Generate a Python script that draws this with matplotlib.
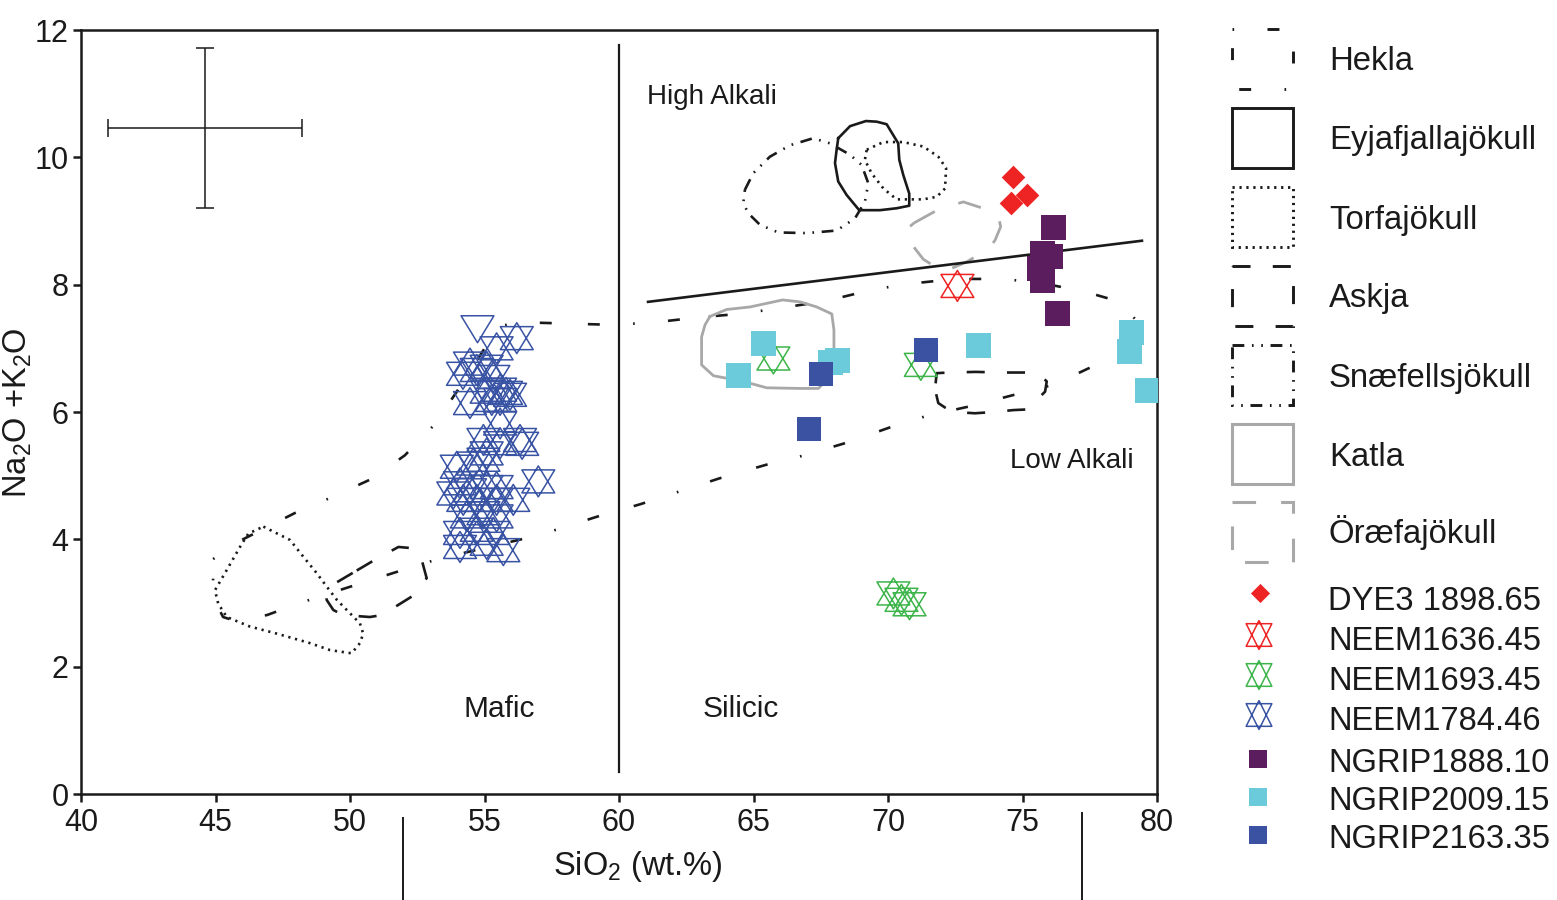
import numpy as np
import matplotlib
matplotlib.use("Agg")
import matplotlib.pyplot as plt
from matplotlib.path import Path
from matplotlib.patches import Rectangle

plt.rcParams['font.family'] = ['Liberation Sans', 'DejaVu Sans']
plt.rcParams['mathtext.default'] = 'regular'
plt.rcParams['lines.scale_dashes'] = False

# ---------------- data ----------------
# volcanic fields (outlines, SiO2 vs total alkali)
hekla_x = [44.91, 46.02, 48.03, 49.26, 50.86, 52.04, 53.16, 54.16, 55.20, 55.58,
           56.32, 59.67, 61.15, 62.83, 64.68, 67.66, 69.41, 70.71, 72.49, 74.24,
           75.65, 77.32, 78.55, 78.92, 79.35, 79.28, 78.33, 76.17, 74.87, 73.16,
           71.45, 70.15, 68.48, 66.80, 65.46, 63.75, 60.78, 59.29, 57.06, 53.27,
           51.60, 49.89, 48.14, 46.91, 45.65, 45.28, 45.02, 44.91]
hekla_y = [3.69, 4.00, 4.43, 4.65, 4.96, 5.32, 5.81, 6.44, 7.13, 7.35,
           7.41, 7.37, 7.40, 7.48, 7.55, 7.74, 7.92, 8.01, 8.09, 8.09,
           8.03, 7.89, 7.74, 7.60, 7.37, 7.05, 6.86, 6.43, 6.29, 6.10,
           5.94, 5.77, 5.52, 5.31, 5.17, 4.96, 4.55, 4.37, 4.07, 3.69,
           3.47, 3.24, 3.00, 2.81, 2.73, 2.78, 3.00, 3.16]
eyja_x = [68.15, 68.59, 69.18, 69.58, 69.95, 70.38, 70.42, 70.57, 70.79, 70.79,
          70.32, 69.70, 68.93, 68.46, 68.15, 68.03, 68.09]
eyja_y = [10.30, 10.49, 10.57, 10.56, 10.52, 10.22, 9.96, 9.72, 9.43, 9.24,
          9.20, 9.17, 9.17, 9.41, 9.62, 9.91, 10.12]
torf_sil_x = [69.21, 69.83, 70.57, 71.31, 71.87, 72.16, 72.12, 71.81, 71.31, 70.32,
              69.83, 69.39, 69.14]
torf_sil_y = [10.12, 10.24, 10.24, 10.17, 10.01, 9.83, 9.51, 9.38, 9.34, 9.34,
              9.51, 9.75, 9.96]
torf_maf_x = [46.78, 47.77, 48.26, 48.76, 49.13, 49.51, 49.88, 50.37, 50.49, 50.37,
              50.06, 49.26, 48.51, 47.27, 46.28, 45.42, 45.10, 44.98, 45.42, 45.91, 46.22]
torf_maf_y = [4.20, 3.99, 3.73, 3.47, 3.26, 3.05, 2.89, 2.68, 2.52, 2.37,
              2.21, 2.26, 2.37, 2.52, 2.63, 2.78, 2.99, 3.20, 3.52, 3.88, 4.09]
askja_sil_x = [71.77, 71.81, 72.24, 73.27, 74.16, 75.22, 75.59, 75.90, 75.84, 75.53,
               75.28, 75.16, 74.66, 73.92, 73.23, 72.49, 72.12, 71.87, 71.78]
askja_sil_y = [6.45, 6.61, 6.62, 6.63, 6.62, 6.62, 6.61, 6.48, 6.32, 6.19,
               6.09, 6.04, 6.03, 6.00, 5.98, 6.00, 6.07, 6.14, 6.30]
askja_maf_x = [50.25, 50.93, 51.80, 52.35, 52.60, 52.85, 52.29, 51.49, 51.18, 50.74,
               49.75, 49.38, 49.13, 49.13]
askja_maf_y = [3.51, 3.68, 3.88, 3.86, 3.78, 3.39, 3.10, 2.89, 2.81, 2.78,
               2.81, 2.89, 3.05, 3.23]
snae_x = [64.68, 64.99, 65.61, 66.36, 67.22, 67.84, 68.59, 69.02, 69.27, 69.14,
          68.77, 68.09, 66.98, 65.92, 65.24, 64.81, 64.62]
snae_y = [9.49, 9.75, 10.01, 10.19, 10.30, 10.22, 10.04, 9.88, 9.59, 9.30,
          9.04, 8.85, 8.81, 8.82, 8.94, 9.12, 9.28]
katla_x = [63.38, 64.00, 64.87, 66.08, 66.73, 67.35, 67.91, 67.99, 67.99, 67.84,
           67.60, 67.41, 66.73, 65.49, 64.62, 63.51, 63.07, 63.07, 63.20]
katla_y = [7.50, 7.61, 7.65, 7.76, 7.73, 7.65, 7.54, 7.29, 6.97, 6.66,
           6.45, 6.37, 6.37, 6.38, 6.48, 6.57, 6.74, 7.18, 7.37]
oraefa_x = [70.97, 71.87, 72.80, 73.75, 74.10, 74.19, 73.98, 73.75, 72.93, 72.06,
            71.31, 70.76, 70.67]
oraefa_y = [8.97, 9.18, 9.30, 9.17, 9.08, 8.91, 8.70, 8.56, 8.36, 8.20,
            8.40, 8.70, 8.86]

# classification lines
alkali_line_x = [61.08, 79.44]
alkali_line_y = [7.73, 8.69]
mafic_silicic_x = [60.0, 60.0]
mafic_silicic_y = [0.35, 11.76]

# analytical uncertainty cross
err_x, err_y = 44.61, 10.46
err_dx, err_dy = 3.6, 1.26

# tephra samples
dye3_x = [74.64, 75.17, 74.58]
dye3_y = [9.69, 9.41, 9.29]
neem1636_x = [72.58]
neem1636_y = [7.98]
neem1693_x = [65.74, 71.22, 70.20, 70.50, 70.80]
neem1693_y = [6.84, 6.74, 3.15, 3.05, 2.98]
neem1784_x = [56.20, 55.45, 54.46, 55.08, 54.71, 55.33, 55.58, 55.08, 55.95, 54.46,
              55.27, 55.58, 55.58, 54.96, 56.32, 55.58, 55.08, 54.96, 53.97, 54.58,
              57.00, 54.09, 53.84, 54.46, 55.08, 55.45, 56.07, 54.71, 54.21, 55.45,
              54.34, 54.96, 55.45, 54.09, 54.71, 55.33, 54.09, 55.08, 55.70, 54.20,
              56.40, 55.80]
neem1784_y = [7.16, 7.00, 6.76, 6.71, 6.66, 6.55, 6.35, 6.32, 6.27, 6.14,
              6.19, 6.19, 5.82, 5.56, 5.56, 5.51, 5.35, 5.25, 5.14, 5.19,
              4.91, 4.88, 4.72, 4.77, 4.82, 4.82, 4.62, 4.62, 4.62, 4.62,
              4.36, 4.41, 4.36, 4.10, 4.15, 4.10, 3.88, 3.93, 3.83, 6.60,
              5.50, 6.30]
neem1784_tri_x = [54.74]
neem1784_tri_y = [7.30]
ngrip1888_x = [76.15, 75.71, 76.02, 75.63, 75.74, 76.29]
ngrip1888_y = [8.91, 8.49, 8.45, 8.26, 8.07, 7.56]
ngrip2009_x = [65.36, 64.44, 68.09, 67.84, 73.36, 79.05, 78.97, 79.64]
ngrip2009_y = [7.09, 6.58, 6.81, 6.78, 7.05, 7.26, 6.96, 6.35]
ngrip2163_x = [71.41, 67.51, 67.06]
ngrip2163_y = [6.97, 6.59, 5.73]

x_ticks = [40, 45, 50, 55, 60, 65, 70, 75, 80]
y_ticks = [0, 2, 4, 6, 8, 10, 12]

field_names = ['Hekla', 'Eyjafjallajökull', 'Torfajökull', 'Askja',
               'Snæfellsjökull', 'Katla', 'Öræfajökull']
sample_names = ['DYE3 1898.65', 'NEEM1636.45', 'NEEM1693.45', 'NEEM1784.46',
                'NGRIP1888.10', 'NGRIP2009.15', 'NGRIP2163.35']

# ---------------- styles ----------------
BLACK = '#1a1a1a'
GREY = '#a8a8a8'
RED = '#ee2424'
GREEN = '#3db54a'
BLUE = '#3953a4'
PURPLE = '#5c1d5e'
CYAN = '#6ccbdb'
DBLUE = '#3a52a1'

field_style = {
    'Hekla': dict(color=BLACK, lw=1.9, ls=(0, (1.2, 24, 8.6, 26, 8.6, 24))),
    'Eyjafjallajökull': dict(color=BLACK, lw=1.9, ls='-'),
    'Torfajökull': dict(color=BLACK, lw=1.9, ls=(0, (1.6, 3.4))),
    'Askja': dict(color=BLACK, lw=1.9, ls=(0, (13, 16))),
    'Snæfellsjökull': dict(color=BLACK, lw=1.9, ls=(0, (8.5, 5.5, 1.2, 5.5, 1.2, 5.5))),
    'Katla': dict(color=GREY, lw=2.0, ls='-'),
    'Öræfajökull': dict(color=GREY, lw=2.0, ls=(0, (17, 18))),
}


def star_path(h=0.82, d=0.06):
    verts = [(0, h / 2 + d), (-0.5, -h / 2 + d), (0.5, -h / 2 + d), (0, h / 2 + d),
             (0, -h / 2 - d), (-0.5, h / 2 - d), (0.5, h / 2 - d), (0, -h / 2 - d)]
    codes = [Path.MOVETO, Path.LINETO, Path.LINETO, Path.CLOSEPOLY] * 2
    return Path(verts, codes)


def down_tri_path(h=0.82):
    verts = [(-0.5, h / 2), (0.5, h / 2), (0, -h / 2), (-0.5, h / 2)]
    codes = [Path.MOVETO, Path.LINETO, Path.LINETO, Path.CLOSEPOLY]
    return Path(verts, codes)


STAR = star_path()
STAR_LEG = star_path(h=1.0, d=0.06)
DTRI = down_tri_path()

# ---------------- figure ----------------
W, H = 1557, 900
fig = plt.figure(figsize=(W / 100, H / 100), dpi=100)
ax = fig.add_axes([81 / W, 106 / H, 1076 / W, 764 / H])
ax.set_xlim(40, 80)
ax.set_ylim(0, 12)
ax.set_xticks(x_ticks)
ax.set_yticks(y_ticks)
ax.tick_params(direction='out', length=6, width=1.8, labelsize=22, pad=3, colors=BLACK)
ax.tick_params(axis='x', pad=4)
for s in ax.spines.values():
    s.set_linewidth(1.8)
    s.set_color(BLACK)


def closed(a):
    return list(a) + [a[0]]


fields = [
    ('Hekla', hekla_x, hekla_y),
    ('Eyjafjallajökull', eyja_x, eyja_y),
    ('Torfajökull', torf_sil_x, torf_sil_y),
    ('Torfajökull', torf_maf_x, torf_maf_y),
    ('Askja', askja_sil_x, askja_sil_y),
    ('Askja', askja_maf_x, askja_maf_y),
    ('Snæfellsjökull', snae_x, snae_y),
    ('Katla', katla_x, katla_y),
    ('Öræfajökull', oraefa_x, oraefa_y),
]
for name, fx, fy in fields:
    st = field_style[name]
    ax.plot(closed(fx), closed(fy), color=st['color'], lw=st['lw'], ls=st['ls'],
            zorder=2, solid_joinstyle='round')

ax.plot(alkali_line_x, alkali_line_y, color=BLACK, lw=1.9, zorder=2)
ax.plot(mafic_silicic_x, mafic_silicic_y, color=BLACK, lw=1.6, zorder=2)

ax.errorbar([err_x], [err_y], xerr=[err_dx], yerr=[err_dy], fmt='none',
            ecolor=BLACK, elinewidth=1.1, capsize=6.5, capthick=1.1, zorder=2)

ax.text(61.04, 10.95, 'High Alkali', ha='left', va='center', fontsize=20, color=BLACK)
ax.text(74.54, 5.23, 'Low Alkali', ha='left', va='center', fontsize=20, color=BLACK)
ax.text(55.54, 1.34, 'Mafic', ha='center', va='center', fontsize=21.5, color=BLACK)
ax.text(64.54, 1.34, 'Silicic', ha='center', va='center', fontsize=21.5, color=BLACK)

# samples
ax.scatter(neem1784_x, neem1784_y, marker=STAR, s=560, facecolors='none',
           edgecolors=BLUE, linewidths=1.1, zorder=3)
ax.scatter(neem1784_tri_x, neem1784_tri_y, marker=DTRI, s=560, facecolors='none',
           edgecolors=BLUE, linewidths=1.1, zorder=3)
ax.scatter(neem1693_x, neem1693_y, marker=STAR, s=560, facecolors='none',
           edgecolors=GREEN, linewidths=1.1, zorder=3)
ax.scatter(neem1636_x, neem1636_y, marker=STAR, s=560, facecolors='none',
           edgecolors=RED, linewidths=1.1, zorder=3)
ax.scatter(dye3_x, dye3_y, marker='D', s=145, color=RED, linewidths=0, zorder=4)
ax.scatter(ngrip1888_x, ngrip1888_y, marker='s', s=324, color=PURPLE, linewidths=0, zorder=4)
ax.scatter(ngrip2009_x, ngrip2009_y, marker='s', s=324, color=CYAN, linewidths=0, zorder=4)
ax.scatter(ngrip2163_x, ngrip2163_y, marker='s', s=300, color=DBLUE, linewidths=0, zorder=4)

# axis labels
fig.text(638 / W, 1 - 866 / H, 'SiO$_2$ (wt.%)', ha='center', va='center',
         fontsize=23.5, color=BLACK)
fig.text(18 / W, 1 - 413 / H, 'Na$_2$O +K$_2$O', ha='center', va='center',
         rotation=90, fontsize=23.5, color=BLACK)

# ---------------- legend (pixel-space overlay) ----------------
lg = fig.add_axes([0, 0, 1, 1], zorder=5)
lg.set_xlim(0, W)
lg.set_ylim(H, 0)
lg.axis('off')

box_tops = [29, 108, 187, 266, 345, 424, 502]
for name, top in zip(field_names, box_tops):
    st = field_style[name]
    lg.add_patch(Rectangle((1232, top), 61, 60, fill=False, edgecolor=st['color'],
                           lw=st['lw'] + 0.2, ls=st['ls']))
    lg.text(1329, top + 30 + 11.5, name, ha='left', va='baseline',
            fontsize=23.7, color=BLACK)

leg_y = [593, 635, 675, 715, 759, 797, 835]
text_y = [599, 638, 678, 718, 760, 798, 837]
lg.scatter([1260.5], [leg_y[0]], marker='D', s=95, color=RED, linewidths=0)
lg.scatter([1259], [leg_y[1]], marker=STAR_LEG, s=430, facecolors='none',
           edgecolors=RED, linewidths=1.1)
lg.scatter([1259], [leg_y[2]], marker=STAR_LEG, s=430, facecolors='none',
           edgecolors=GREEN, linewidths=1.1)
lg.scatter([1259], [leg_y[3]], marker=STAR_LEG, s=430, facecolors='none',
           edgecolors=BLUE, linewidths=1.1)
lg.scatter([1258.5], [leg_y[4]], marker='s', s=185, color=PURPLE, linewidths=0)
lg.scatter([1258.5], [leg_y[5]], marker='s', s=185, color=CYAN, linewidths=0)
lg.scatter([1258.5], [leg_y[6]], marker='s', s=185, color=DBLUE, linewidths=0)
for name, ty in zip(sample_names, text_y):
    lg.text(1328, ty + 11.5, name, ha='left', va='baseline', fontsize=23.6, color=BLACK)

# stray vertical rules below the axis (present in original figure)
lg.plot([403, 403], [818, 900], color=BLACK, lw=1.4)
lg.plot([1082, 1082], [813, 900], color=BLACK, lw=1.4)

fig.savefig('out.png', dpi=100, facecolor='white')
